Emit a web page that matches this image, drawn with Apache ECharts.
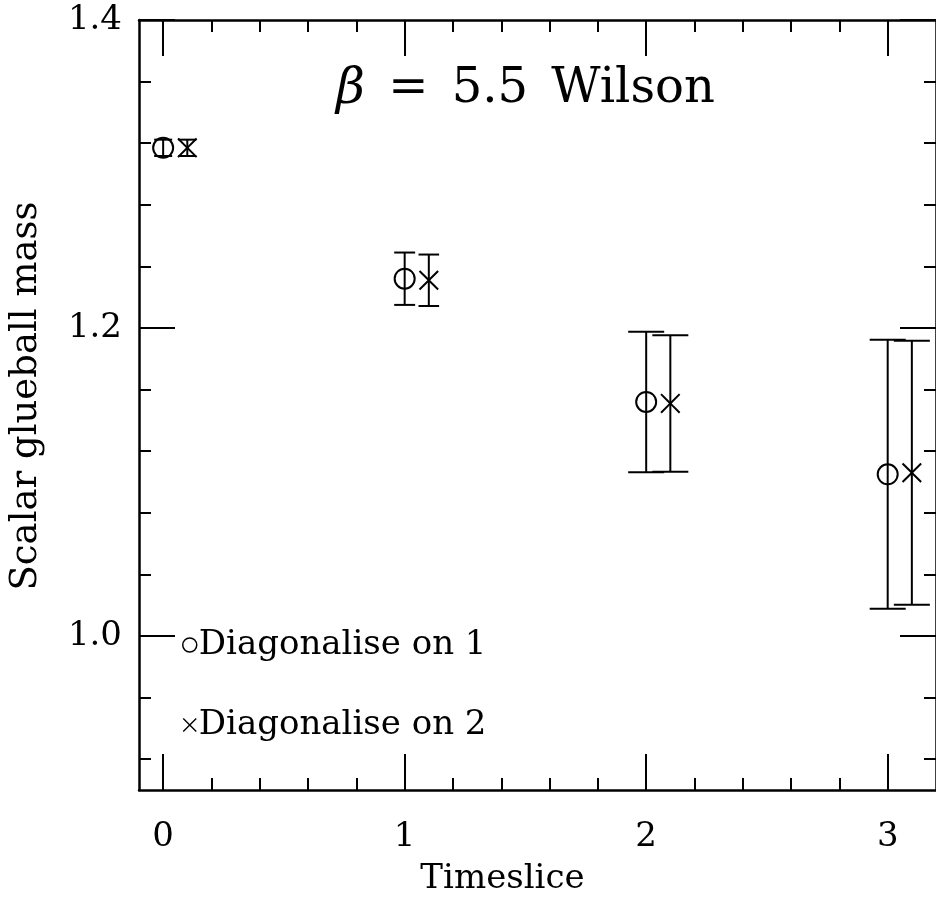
<!DOCTYPE html>
<html>
<head>
<meta charset="utf-8">
<script src="https://cdn.jsdelivr.net/npm/echarts@6/dist/echarts.min.js"></script>
<style>
  html, body { margin: 0; padding: 0; background: #fff; }
  #chart { width: 936px; height: 901px; }
</style>
</head>
<body>
<div id="chart"></div>
<script>
// ---- data ----
const timesliceOne = [0, 1, 2, 3];
const massOne      = [1.317, 1.232, 1.152, 1.105];
const errOne       = [0.0053, 0.0170, 0.0456, 0.0873];

const timesliceTwo = [0.1, 1.1, 2.1, 3.1];
const massTwo      = [1.317, 1.231, 1.151, 1.106];
const errTwo       = [0.0053, 0.0167, 0.0443, 0.0857];

const seriesNames  = ['Diagonalise on 1', 'Diagonalise on 2'];

const xMajorTicks  = [0, 1, 2, 3];
const xMinorTicks  = [0.2, 0.4, 0.6, 0.8, 1.2, 1.4, 1.6, 1.8, 2.2, 2.4, 2.6, 2.8];
const yMajorTicks  = [1.0, 1.2, 1.4];
const yMinorTicks  = [0.92, 0.96, 1.04, 1.08, 1.12, 1.16, 1.24, 1.28, 1.32, 1.36];
const yLabelValues = [1.0, 1.2, 1.4];

// ---- styling ----
const FONT = 'DejaVu Serif';
const INK = '#000';
const X_MIN = -0.1, X_MAX = 3.2, Y_MIN = 0.9, Y_MAX = 1.4;

function xAxisDef(pos, ticks, len, withLine, withLabel) {
  return {
    type: 'value', position: pos, min: X_MIN, max: X_MAX,
    axisLine: { show: withLine, onZero: false, lineStyle: { color: INK, width: 2.5 } },
    axisTick: { show: true, inside: true, length: len, customValues: ticks,
                lineStyle: { color: INK, width: 2 } },
    axisLabel: withLabel ? { show: true, customValues: xMajorTicks, margin: 30,
                formatter: v => String(v), color: INK, fontFamily: FONT, fontSize: 34 }
              : { show: false },
    splitLine: { show: false }
  };
}
function yAxisDef(pos, ticks, len, withLine, withLabel) {
  return {
    type: 'value', position: pos, min: Y_MIN, max: Y_MAX,
    axisLine: { show: withLine, onZero: false, lineStyle: { color: INK, width: 2.5 } },
    axisTick: { show: true, inside: true, length: len, customValues: ticks,
                lineStyle: { color: INK, width: 2 } },
    axisLabel: withLabel ? { show: true, customValues: yLabelValues, margin: 17,
                formatter: v => v.toFixed(1), color: INK, fontFamily: FONT, fontSize: 34 }
              : { show: false },
    splitLine: { show: false }
  };
}

const xAxes = [
  xAxisDef('bottom', xMajorTicks, 36, true, true),
  xAxisDef('bottom', xMinorTicks, 12, false, false),
  xAxisDef('top', xMajorTicks, 36, true, false),
  xAxisDef('top', xMinorTicks, 12, false, false)
];
Object.assign(xAxes[0], {
  name: 'Timeslice', nameLocation: 'middle', nameGap: 72,
  nameTextStyle: { color: INK, fontFamily: FONT, fontSize: 34, padding: [0, 70, 0, 0] }
});
const yAxes = [
  yAxisDef('left', yMajorTicks, 36, true, true),
  yAxisDef('left', yMinorTicks, 12, false, false),
  yAxisDef('right', yMajorTicks, 36, true, false),
  yAxisDef('right', yMinorTicks, 12, false, false)
];
Object.assign(yAxes[0], {
  name: 'Scalar glueball mass', nameLocation: 'middle', nameGap: 94,
  nameTextStyle: { color: INK, fontFamily: FONT, fontSize: 37, padding: [0, 0, 0, 18] }
});

function errData(xs, ys, es) { return xs.map((x, i) => [x, ys[i], es[i]]); }
function ptData(xs, ys) { return xs.map((x, i) => [x, ys[i]]); }

function renderErr(params, api) {
  const x = api.value(0), y = api.value(1), e = api.value(2);
  const top = api.coord([x, y + e]);
  const bot = api.coord([x, y - e]);
  const errPx = Math.abs(bot[1] - top[1]) / 2;
  const hw = Math.min(18, Math.max(9, errPx * 0.4));
  const st = { stroke: INK, lineWidth: 2, fill: null };
  return {
    type: 'group',
    children: [
      { type: 'line', shape: { x1: top[0], y1: top[1], x2: bot[0], y2: bot[1] }, style: st },
      { type: 'line', shape: { x1: top[0] - hw, y1: top[1], x2: top[0] + hw, y2: top[1] }, style: st },
      { type: 'line', shape: { x1: bot[0] - hw, y1: bot[1], x2: bot[0] + hw, y2: bot[1] }, style: st }
    ]
  };
}

const crossPath = 'path://M0,0.7 L0.7,0 L5,4.3 L9.3,0 L10,0.7 L5.7,5 L10,9.3 L9.3,10 L5,5.7 L0.7,10 L0,9.3 L4.3,5 Z';

const option = {
  animation: false,
  backgroundColor: '#fff',
  grid: { left: 137, top: 20, width: 801, height: 779, containLabel: false },
  title: {
    text: '{b|β} {e|=} 5.5 {w|Wilson}',
    left: 331, top: 60,
    textStyle: {
      color: INK, fontFamily: FONT, fontSize: 48, fontWeight: 'normal',
      rich: {
        b: { color: INK, fontFamily: FONT, fontSize: 50, fontStyle: 'italic' },
        e: { color: INK, fontFamily: FONT, fontSize: 48, padding: [0, 8, 0, 8] },
        w: { color: INK, fontFamily: FONT, fontSize: 48, padding: [0, 0, 0, 8] }
      }
    }
  },
  legend: {
    orient: 'vertical', left: 177, top: 622, itemGap: 44,
    itemWidth: 14, itemHeight: 14,
    textStyle: { color: INK, fontFamily: FONT, fontSize: 34, lineHeight: 36, padding: [0, 0, 0, -3] },
    data: [
      { name: seriesNames[0], icon: 'circle',
        itemStyle: { color: 'rgba(0,0,0,0)', borderColor: INK, borderWidth: 1.5 } },
      { name: seriesNames[1], icon: crossPath, itemStyle: { color: INK, borderWidth: 0 } }
    ]
  },
  xAxis: xAxes,
  yAxis: yAxes,
  series: [
    { type: 'custom', renderItem: renderErr, data: errData(timesliceOne, massOne, errOne),
      encode: { x: 0, y: 1 }, silent: true, z: 2 },
    { type: 'custom', renderItem: renderErr, data: errData(timesliceTwo, massTwo, errTwo),
      encode: { x: 0, y: 1 }, silent: true, z: 2 },
    { name: seriesNames[0], type: 'scatter', data: ptData(timesliceOne, massOne),
      symbol: 'circle', symbolSize: 20, z: 3,
      itemStyle: { color: 'rgba(0,0,0,0)', borderColor: INK, borderWidth: 2, opacity: 1 } },
    { name: seriesNames[1], type: 'scatter', data: ptData(timesliceTwo, massTwo),
      symbol: crossPath, symbolSize: 20, z: 3,
      itemStyle: { color: INK, borderWidth: 0, opacity: 1 } }
  ]
};

const chart = echarts.init(document.getElementById('chart'), null, { renderer: 'canvas' });
chart.setOption(option);
</script>
</body>
</html>
